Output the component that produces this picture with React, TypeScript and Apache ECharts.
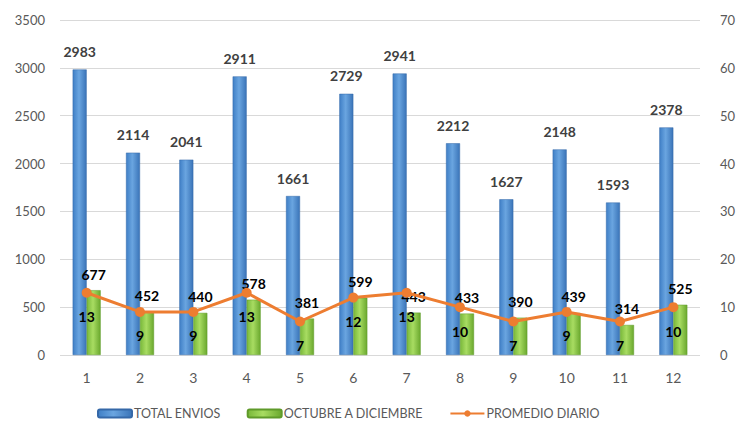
import React, { useEffect, useRef } from "react";
import * as echarts from "echarts";

const categories = ["1", "2", "3", "4", "5", "6", "7", "8", "9", "10", "11", "12"];
const totalEnvios = [2983, 2114, 2041, 2911, 1661, 2729, 2941, 2212, 1627, 2148, 1593, 2378];
const octubreDiciembre = [677, 452, 440, 578, 381, 599, 443, 433, 390, 439, 314, 525];
const promedioDiario = [13, 9, 9, 13, 7, 12, 13, 10, 7, 9, 7, 10];

const FONT = "Lato";

export default function App() {
  const ref = useRef<HTMLDivElement>(null);
  useEffect(() => {
    if (!ref.current) return;
    const chart = echarts.init(ref.current, undefined, { renderer: "svg" });
    const blue = new echarts.graphic.LinearGradient(0, 0, 1, 0, [
      { offset: 0, color: "#3f7fc6" },
      { offset: 0.45, color: "#6aa5e0" },
      { offset: 1, color: "#3a74b8" },
    ]);
    const green = new echarts.graphic.LinearGradient(0, 0, 1, 0, [
      { offset: 0, color: "#79b83a" },
      { offset: 0.45, color: "#a8dc62" },
      { offset: 1, color: "#6aa82e" },
    ]);
    chart.setOption({
      animation: false,
      textStyle: { fontFamily: FONT },
      grid: { left: 52, right: 47, top: 12, bottom: 67 },
      legend: {
        top: 394,
        left: 84,
        itemWidth: 34,
        itemHeight: 8,
        itemGap: 26,
        textStyle: { color: "#595959", fontSize: 12.5, fontFamily: FONT, padding: [0, 0, 0, -3] },
        data: ["TOTAL ENVIOS", "OCTUBRE A DICIEMBRE", "PROMEDIO DIARIO"],
      },
      xAxis: {
        type: "category",
        data: categories,
        axisLine: { show: false },
        axisTick: { show: false },
        axisLabel: { color: "#595959", fontSize: 14, margin: 15, fontFamily: FONT },
      },
      yAxis: [
        {
          type: "value",
          min: 0,
          max: 3500,
          interval: 500,
          axisLine: { show: false },
          axisTick: { show: false },
          axisLabel: {
            color: "#595959",
            fontSize: 13,
            margin: 15,
            fontFamily: FONT,
            formatter: (v: number) => String(v),
          },
          splitLine: { lineStyle: { color: "#d9d9d9", width: 1 } },
        },
        {
          type: "value",
          min: 0,
          max: 70,
          interval: 10,
          axisLine: { show: false },
          axisTick: { show: false },
          axisLabel: {
            color: "#595959",
            fontSize: 13,
            margin: 20,
            fontFamily: FONT,
            formatter: (v: number) => String(v),
          },
          splitLine: { show: false },
        },
      ],
      series: [
        {
          name: "TOTAL ENVIOS",
          type: "bar",
          data: totalEnvios,
          barWidth: 14,
          barGap: "0%",
          itemStyle: { color: blue, borderColor: "#3568a8", borderWidth: 0.5 },
          label: {
            show: true,
            position: "top",
            distance: 11,
            color: "#404040",
            fontWeight: "bold",
            fontSize: 14,
            fontFamily: FONT,
          },
        },
        {
          name: "OCTUBRE A DICIEMBRE",
          type: "bar",
          data: octubreDiciembre,
          barWidth: 14,
          itemStyle: { color: green, borderColor: "#5f9a2a", borderWidth: 0.5 },
          label: {
            show: true,
            position: "top",
            distance: 9,
            color: "#000000",
            fontWeight: "bold",
            fontSize: 14,
            fontFamily: FONT,
          },
        },
        {
          name: "PROMEDIO DIARIO",
          type: "line",
          yAxisIndex: 1,
          data: promedioDiario,
          symbol: "circle",
          symbolSize: 10,
          lineStyle: { color: "#ED7D31", width: 3 },
          itemStyle: { color: "#ED7D31" },
          z: 5,
          label: {
            show: true,
            position: "bottom",
            distance: 12,
            color: "#000000",
            fontWeight: "bold",
            fontSize: 14,
            fontFamily: FONT,
          },
        },
      ],
    });
    return () => chart.dispose();
  }, []);
  return <div ref={ref} style={{ width: 739, height: 414 }} />;
}
